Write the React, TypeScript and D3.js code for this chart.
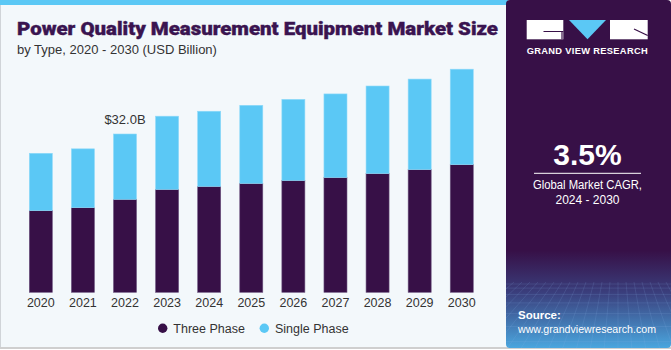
import React from "react";
import * as d3 from "d3";

const years = ["2020","2021","2022","2023","2024","2025","2026","2027","2028","2029","2030"];
const threePhase = [16.5,17.1,18.8,20.8,21.4,22.0,22.6,23.2,24.0,24.8,25.8];
const singlePhase = [11.6,11.9,13.2,14.8,15.2,15.8,16.4,16.9,17.7,18.3,19.3];
const seriesNames = ["Three Phase","Single Phase"];
const seriesColors = ["#371047","#5bc8f5"];
const annotationYear = "2022";
const annotationText = "$32.0B";

export default function App() {
  const W = 671, H = 350;
  const x = d3.scaleBand<string>().domain(years).range([19.77, 482.8]).paddingInner(0.453).paddingOuter(0.2265);
  const y = d3.scaleLinear().domain([0, 50]).range([292.3, 44.95]);
  const stackData = years.map((yr, i) => ({ year: yr, three: threePhase[i], single: singlePhase[i] }));
  const stack = d3.stack<any>().keys(["three","single"])(stackData);
  const font = "'Liberation Sans', Arial, sans-serif";
  const annIdx = years.indexOf(annotationYear);
  const annTotal = threePhase[annIdx] + singlePhase[annIdx];

  const gridV = d3.range(0, 24).map(i => i);
  const gridH = d3.range(0, 8).map(i => i);

  return (
    <svg width={W} height={H} style={{ position: "absolute", left: 0, top: 0 }}>
      <defs>
        <linearGradient id="panelGrad" x1="0" y1="0" x2="0" y2="1">
          <stop offset="0" stopColor="#371047" />
          <stop offset="0.72" stopColor="#371047" />
          <stop offset="0.84" stopColor="#3a3e7c" />
          <stop offset="1" stopColor="#4aa6de" />
        </linearGradient>
        <clipPath id="panelClip">
          <rect x={506} y={0} width={165} height={348} rx={4} />
        </clipPath>
      </defs>
      <rect x={0} y={0} width={W} height={H} fill="#ffffff" />
      <rect x={0.5} y={0.5} width={507} height={347} fill="#f3f8fb" stroke="#d0d4d8" />
      <rect x={0} y={0} width={508} height={5} fill="#5bc8f5" />
      <line x1={0} x2={W} y1={348} y2={348} stroke="#cfcfcf" strokeWidth={2} />

      <text x={17} y={35} fontFamily="Roboto, 'Liberation Sans', sans-serif" fontWeight={900} fontSize={19} fill="#3a1450" stroke="#3a1450" strokeWidth={0.4} textLength={481} lengthAdjust="spacingAndGlyphs">Power Quality Measurement Equipment Market Size</text>
      <text x={17} y={53.5} fontFamily={font} fontSize={13} fill="#333">by Type, 2020 - 2030 (USD Billion)</text>

      {stack.map((s, si) => (
        <g key={si}>
          {s.map((d, i) => (
            <rect key={i} x={x(years[i])} width={x.bandwidth()} y={y(d[1])} height={y(d[0]) - y(d[1])}
              fill={seriesColors[si]} stroke={si === 0 ? "#6d5580" : "#8fdaf9"} strokeWidth={0.6} />
          ))}
        </g>
      ))}

      <text x={(x(annotationYear) as number) + x.bandwidth() / 2} y={y(annTotal) - 10} textAnchor="middle" fontFamily={font} fontSize={13} fill="#333">{annotationText}</text>

      {years.map(yr => (
        <text key={yr} x={(x(yr) as number) + x.bandwidth() / 2} y={307} textAnchor="middle" fontFamily={font} fontSize={12.5} fill="#333">{yr}</text>
      ))}

      <circle cx={162.7} cy={328.3} r={4.7} fill={seriesColors[0]} />
      <text x={173.3} y={332.5} fontFamily={font} fontSize={12.5} fill="#333">{seriesNames[0]}</text>
      <circle cx={264.3} cy={328.3} r={4.7} fill={seriesColors[1]} />
      <text x={275} y={332.5} fontFamily={font} fontSize={12.5} fill="#333">{seriesNames[1]}</text>

      <g clipPath="url(#panelClip)">
        <rect x={506} y={0} width={165} height={348} fill="url(#panelGrad)" />
        <g stroke="#8fb8e8" strokeOpacity={0.25} strokeWidth={0.6}>
          {gridV.map(i => (
            <line key={"v" + i} x1={506 + i * 8} y1={282} x2={506 + (i - 12) * 14 + 84} y2={350} />
          ))}
          {gridH.map(i => (
            <line key={"h" + i} x1={506} x2={671} y1={284 + i * i * 1.1 + i * 3} y2={284 + i * i * 1.1 + i * 3} />
          ))}
        </g>
        <rect x={526.7} y={20} width={36.6} height={19.3} fill="#ffffff" />
        <path d="M543.5,31.5 L563.3,31.5 M562,31.5 L562,39.3" stroke="#371047" strokeWidth={1.2} fill="none" />
        <path d="M569,20 L606,20 L587.5,39.3 Z" fill="#5bc8f5" />
        <rect x={610} y={20} width={37.7} height={19.3} fill="#ffffff" />
        <path d="M634,29 L647.7,35.5" stroke="#371047" strokeWidth={1.2} fill="none" />
        <text x={587.2} y={53.5} textAnchor="middle" fontFamily={font} fontWeight={700} fontSize={9.3} fill="#ffffff" textLength={121} lengthAdjust="spacing">GRAND VIEW RESEARCH</text>

        <text x={587.5} y={165} textAnchor="middle" fontFamily={font} fontWeight={700} fontSize={30} fill="#ffffff">3.5%</text>
        <line x1={534} x2={641} y1={173.3} y2={173.3} stroke="#ffffff" strokeWidth={1} />
        <text x={587.5} y={189} textAnchor="middle" fontFamily={font} fontSize={12} fill="#ffffff" textLength={109} lengthAdjust="spacingAndGlyphs">Global Market CAGR,</text>
        <text x={587.5} y={204} textAnchor="middle" fontFamily={font} fontSize={12} fill="#ffffff">2024 - 2030</text>

        <text x={518} y={319} fontFamily={font} fontWeight={700} fontSize={11.5} fill="#ffffff">Source:</text>
        <text x={518} y={333} fontFamily={font} fontSize={11} fill="#ffffff" textLength={138} lengthAdjust="spacingAndGlyphs">www.grandviewresearch.com</text>
      </g>
    </svg>
  );
}
